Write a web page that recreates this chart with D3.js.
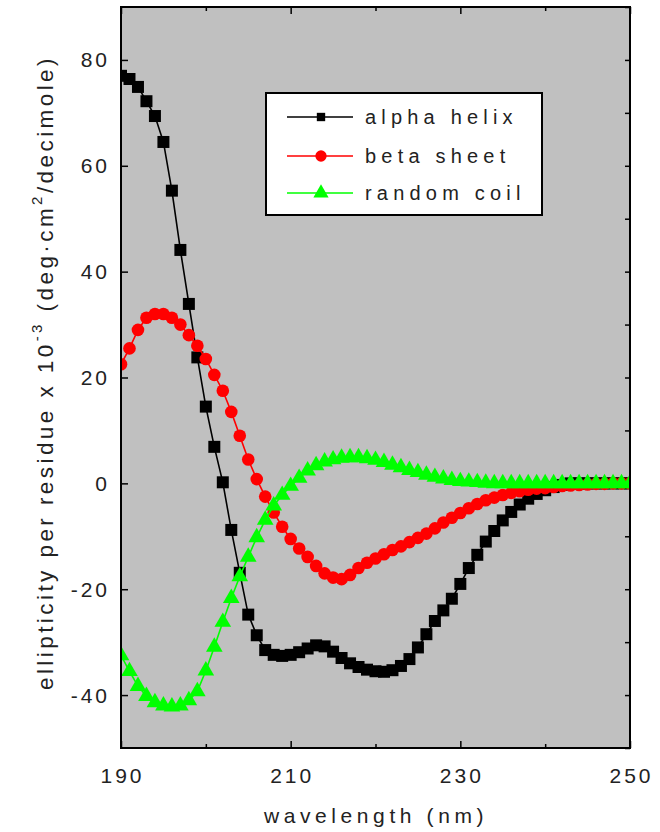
<!DOCTYPE html>
<html>
<head>
<meta charset="utf-8">
<script src="https://cdn.jsdelivr.net/npm/d3@7"></script>
<style>
  html, body { margin: 0; padding: 0; background: #ffffff; }
  svg { display: block; }
  text { font-family: Arial, "Liberation Sans", sans-serif; fill: #222; }
</style>
</head>
<body>
<svg id="chart" width="660" height="832"></svg>
<script>
// ---------- data ----------
const wavelengths = [190,191,192,193,194,195,196,197,198,199,200,201,202,203,204,205,206,207,208,209,
  210,211,212,213,214,215,216,217,218,219,220,221,222,223,224,225,226,227,228,229,
  230,231,232,233,234,235,236,237,238,239,240,241,242,243,244,245,246,247,248,249,250];

const alphaHelix = [77.0,76.4,74.9,72.2,69.4,64.5,55.3,44.1,33.9,23.8,14.5,6.9,0.2,-8.8,-16.9,-24.8,-28.7,-31.5,-32.4,-32.6,
  -32.4,-31.9,-31.2,-30.6,-30.8,-31.8,-33.0,-34.0,-34.7,-35.2,-35.5,-35.6,-35.3,-34.5,-33.2,-31.0,-28.5,-26.0,-24.0,-21.8,
  -19.0,-16.0,-13.5,-11.0,-9.0,-7.0,-5.4,-4.0,-2.9,-2.0,-1.3,-0.7,-0.3,0,0,0,0,0,0,0,0];

const betaSheet = [22.5,25.5,29.0,31.3,32.0,32.0,31.3,30.0,28.0,26.0,23.5,20.5,17.5,13.5,9.0,4.5,0.8,-2.5,-5.5,-8.2,
  -10.5,-12.3,-13.9,-15.6,-17.0,-17.8,-18.1,-17.3,-16.0,-15.0,-14.2,-13.4,-12.6,-11.9,-11.1,-10.3,-9.5,-8.5,-7.4,-6.5,
  -5.6,-4.7,-3.9,-3.2,-2.7,-2.2,-1.8,-1.5,-1.2,-1.0,-0.9,-0.7,-0.5,-0.4,-0.3,-0.2,-0.1,-0.1,0,0,0];

const randomCoil = [-32.5,-35.5,-38.3,-40.2,-41.4,-42.0,-42.2,-42.0,-41.0,-39.3,-35.4,-30.9,-26.2,-21.7,-17.6,-13.9,-10.2,-6.9,-4.2,-2.2,
  -0.5,1.0,2.4,3.4,4.1,4.5,4.8,4.9,4.9,4.7,4.4,4.0,3.5,3.0,2.5,2.1,1.6,1.2,0.9,0.6,
  0.4,0.3,0.2,0.1,0,0,0,0,0,0,0,0,0,0,0,0,0,0,0,0,0];

const seriesNames = ["alpha helix", "beta sheet", "random coil"];
const seriesColors = ["#000000", "#ff0000", "#00ff00"];
const xTicks = [190, 210, 230, 250];
const xMinorTicks = [200, 220, 240];
const yTicks = [-40, -20, 0, 20, 40, 60, 80];
const yMinorTicks = [-50,-40,-30,-20,-10,0,10,20,30,40,50,60,70,80,90];
const xTitle = "wavelength (nm)";

// ---------- layout ----------
const L = 121, R = 630, T = 7, B = 748;
const svg = d3.select("#chart");
const x = d3.scaleLinear().domain([190, 250]).range([L, R]);
const y = d3.scaleLinear().domain([-50, 90]).range([B, T]);

svg.append("rect").attr("x", L).attr("y", T).attr("width", R - L).attr("height", B - T)
  .attr("fill", "#c0c0c0");

svg.append("defs").append("clipPath").attr("id", "plotclip")
  .append("rect").attr("x", L).attr("y", T).attr("width", R - L).attr("height", B - T);

// ---------- axes (ticks inside) ----------
const axB = d3.axisBottom(x).tickValues(xTicks).tickSize(-7).tickFormat("");
const axBm = d3.axisBottom(x).tickValues(xMinorTicks).tickSize(-4).tickFormat("");
const axT = d3.axisTop(x).tickValues(xTicks).tickSize(-7).tickFormat("");
const axTm = d3.axisTop(x).tickValues(xMinorTicks).tickSize(-4).tickFormat("");
const axL = d3.axisLeft(y).tickValues(yTicks).tickSize(-7).tickFormat("");
const axR = d3.axisRight(y).tickValues(yMinorTicks).tickSize(-5).tickFormat("");

function styleAxis(g) {
  g.select(".domain").remove();
  g.selectAll(".tick line").attr("stroke", "#000").attr("stroke-width", 1.5);
}
svg.append("g").attr("transform", `translate(0,${B})`).call(axB).call(styleAxis);
svg.append("g").attr("transform", `translate(0,${B})`).call(axBm).call(styleAxis);
svg.append("g").attr("transform", `translate(0,${T})`).call(axT).call(styleAxis);
svg.append("g").attr("transform", `translate(0,${T})`).call(axTm).call(styleAxis);
svg.append("g").attr("transform", `translate(${L},0)`).call(axL).call(styleAxis);
svg.append("g").attr("transform", `translate(${R},0)`).call(axR).call(styleAxis);

// tick labels
const lblStyle = (s) => s.attr("font-size", 21).attr("letter-spacing", 3);
svg.append("g").selectAll("text").data(xTicks).join("text")
  .attr("x", d => x(d) + 1.5).attr("y", 783).attr("text-anchor", "middle")
  .call(lblStyle).text(d => d);
svg.append("g").selectAll("text").data(yTicks).join("text")
  .attr("x", 110).attr("y", d => y(d)).attr("dy", "0.36em").attr("text-anchor", "end")
  .call(lblStyle).text(d => d);

// axis titles
svg.append("text").attr("x", 376).attr("y", 823).attr("text-anchor", "middle")
  .attr("font-size", 21).attr("letter-spacing", 4.6).text(xTitle);

// y title: starts at y=690 (bottom) and runs up to about y=55
const yTitleStart = 690, yTitleLen = 635;
const yt = svg.append("text").attr("transform", `translate(53,${yTitleStart}) rotate(-90)`)
  .attr("text-anchor", "start").attr("font-size", 22.5).attr("letter-spacing", 2);
yt.append("tspan").text("ellipticity per residue x 10");
yt.append("tspan").attr("dy", -11).attr("font-size", 15).text("-3");
yt.append("tspan").attr("dy", 11).text(" (deg\u00b7cm");
yt.append("tspan").attr("dy", -11).attr("font-size", 15).text("2");
yt.append("tspan").attr("dy", 11).text("/decimole)");
{
  const n = yt.text().length;
  const len = yt.node().getComputedTextLength();
  yt.attr("letter-spacing", 2 + (yTitleLen - len) / n);
}

// ---------- series ----------
const allSeries = [alphaHelix, betaSheet, randomCoil];
const symbols = [d3.symbolSquare, d3.symbolCircle, d3.symbolTriangle];
const symSizes = [144, 125, 120];

const plot = svg.append("g").attr("clip-path", "url(#plotclip)");
const line = d3.line().x(d => x(d[0])).y(d => y(d[1]));

allSeries.forEach((vals, i) => {
  const pts = wavelengths.map((w, k) => [w, vals[k]]);
  const g = plot.append("g");
  g.append("path").datum(pts).attr("d", line).attr("fill", "none")
    .attr("stroke", seriesColors[i]).attr("stroke-width", 1.6);
  g.selectAll("path.m").data(pts).join("path").attr("class", "m")
    .attr("transform", d => `translate(${x(d[0])},${y(d[1])})`)
    .attr("d", d3.symbol().type(symbols[i]).size(symSizes[i]))
    .attr("fill", seriesColors[i]);
});

// frame
svg.append("rect").attr("x", L).attr("y", T).attr("width", R - L).attr("height", B - T)
  .attr("fill", "none").attr("stroke", "#000").attr("stroke-width", 2);

// ---------- legend ----------
const lg = svg.append("g");
lg.append("rect").attr("x", 266).attr("y", 93).attr("width", 276).attr("height", 122)
  .attr("fill", "#fff").attr("stroke", "#000").attr("stroke-width", 2);
const rowsY = [117, 156, 193];
const legSizes = [70, 100, 100];
seriesNames.forEach((name, i) => {
  lg.append("line").attr("x1", 287).attr("x2", 353).attr("y1", rowsY[i]).attr("y2", rowsY[i])
    .attr("stroke", seriesColors[i]).attr("stroke-width", 1.6);
  lg.append("path").attr("transform", `translate(321,${rowsY[i]})`)
    .attr("d", d3.symbol().type(symbols[i]).size(legSizes[i])).attr("fill", seriesColors[i]);
  lg.append("text").attr("x", 365).attr("y", rowsY[i]).attr("dy", "0.35em")
    .attr("font-size", 20).attr("letter-spacing", 5.2).text(name);
});
</script>
</body>
</html>
